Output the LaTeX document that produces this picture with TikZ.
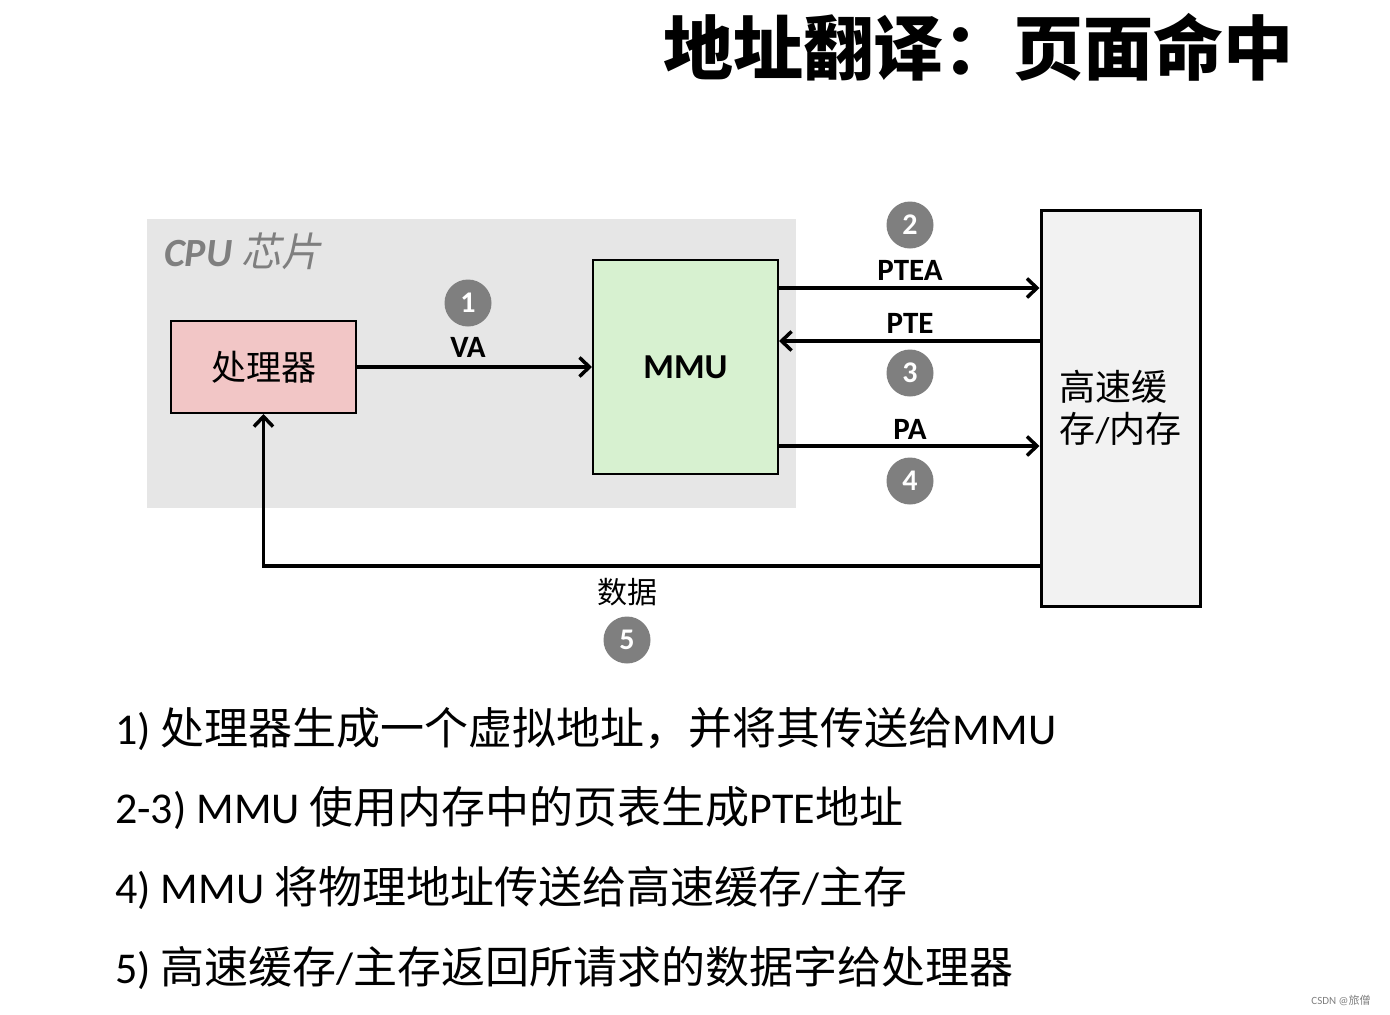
\documentclass[tikz,border=0pt]{standalone}
\usepackage{fontspec}
\setmainfont{Carlito}
\newfontfamily\cjk{Noto Sans CJK SC}
\newfontfamily\cjksl{Noto Sans CJK SC}[FakeSlant=0.2]
\usetikzlibrary{arrows.meta}
\definecolor{chipgray}{HTML}{E6E6E6}
\definecolor{procpink}{HTML}{F2C6C6}
\definecolor{mmugreen}{HTML}{D7F1D0}
\definecolor{memgray}{HTML}{F2F2F2}
\definecolor{numgray}{HTML}{7F7F7F}
\tikzset{
  box/.style={draw=black, line width=2pt, inner sep=0pt},
  arr/.style={line width=3.5pt, -{Straight Barb[length=10pt,width=19pt,line width=3.5pt]}},
  num/.style={circle, fill=numgray, minimum size=47pt, inner sep=0pt, text=white, font=\fontsize{30}{32}\selectfont\bfseries},
  lbl/.style={font=\fontsize{31}{34}\selectfont\bfseries, inner sep=0pt},
  bottomline/.style={anchor=west, inner sep=0pt, font=\fontsize{44}{50}\selectfont},
}
\begin{document}
\begin{tikzpicture}[x=1pt,y=-1pt]
\useasboundingbox[fill=white] (0,0) rectangle (1390,1015);

% title
\node[inner sep=0pt, font=\fontsize{70}{80}\selectfont\cjk\bfseries] (title) at (978,47) {地址翻译：页面命中};

% CPU chip region
\fill[chipgray] (147,219) rectangle (796,508);
\node[anchor=west, inner sep=0pt, text=numgray] (cpulbl) at (164,251)
  {\fontsize{40}{44}\selectfont\bfseries\itshape CPU {\cjksl\mdseries 芯片}};

% boxes
\node[box, fill=procpink, minimum width=185pt, minimum height=92pt] (proc) at (263.5,367)
  {\fontsize{35}{40}\selectfont\cjk 处理器};
\node[box, fill=mmugreen, minimum width=185pt, minimum height=214pt] (mmu) at (685.5,367)
  {\fontsize{35}{40}\selectfont\bfseries MMU};
\node[box, line width=3pt, fill=memgray, minimum width=159pt, minimum height=396pt, align=left,
      font=\fontsize{36}{42}\selectfont] (mem) at (1120.5,408)
  {{\cjk 高速缓}\\{\cjk 存}/{\cjk 内存}};

% helper coordinates
\coordinate (yPTEA) at (0,288);
\coordinate (yPTE) at (0,341);
\coordinate (yPA) at (0,446);
\coordinate (yData) at (0,566);

% arrows
\draw[arr] (proc) -- (mmu);
\draw[arr] (mmu.east |- yPTEA) -- (mem.west |- yPTEA);
\draw[arr] (mem.west |- yPTE) -- (mmu.east |- yPTE);
\draw[arr] (mmu.east |- yPA) -- (mem.west |- yPA);
\draw[arr] (mem.west |- yData) -- (proc.south |- yData) -- (proc.south);

% labels
\node[lbl] (lVA) at (468,347) {VA};
\node[num] (n1) at (468,303) {1};
\node[lbl] (lPTEA) at (910,270) {PTEA};
\node[num] (n2) at (910,225) {2};
\node[lbl] (lPTE) at (910,323) {PTE};
\node[num] (n3) at (910,373) {3};
\node[lbl] (lPA) at (910,429) {PA};
\node[num] (n4) at (910,481) {4};
\node[inner sep=0pt, font=\fontsize{30}{34}\selectfont\cjk] (lData) at (627,592) {数据};
\node[num] (n5) at (627,640) {5};

% bottom text
\node[bottomline] (t1) at (115,729) {1) {\cjk 处理器生成一个虚拟地址，并将其传送给}MMU};
\node[bottomline] (t2) at (115,808) {2-3) MMU {\cjk 使用内存中的页表生成}PTE{\cjk 地址}};
\node[bottomline] (t3) at (115,888) {4) MMU {\cjk 将物理地址传送给高速缓存}/{\cjk 主存}};
\node[bottomline] (t4) at (115,968) {5) {\cjk 高速缓存}/{\cjk 主存返回所请求的数据字给处理器}};

% watermark
\node[inner sep=0pt, text=gray, font=\fontsize{11}{13}\selectfont] (wm) at (1341,1000) {CSDN @{\cjk 旅僧}};
\end{tikzpicture}
\end{document}
